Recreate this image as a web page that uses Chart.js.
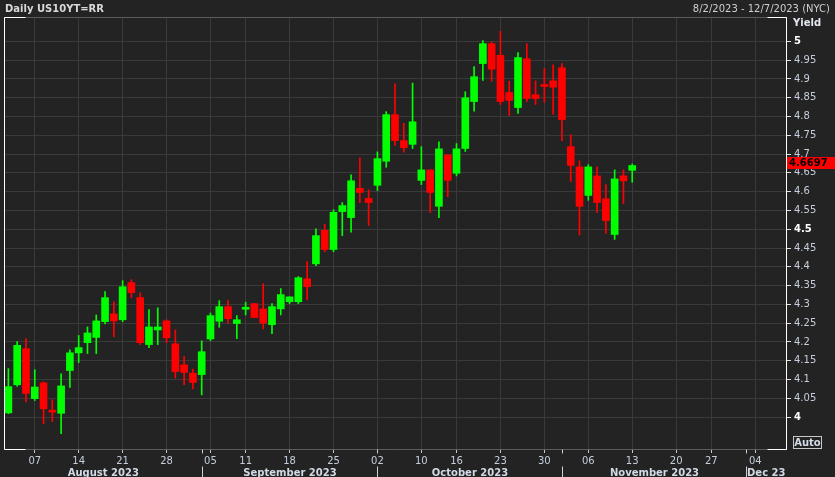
<!DOCTYPE html>
<html><head><meta charset="utf-8">
<script src="https://cdn.jsdelivr.net/npm/chart.js@4.4.0/dist/chart.umd.min.js"></script>
<style>
html,body{margin:0;padding:0;background:#232323;}
#wrap{position:relative;width:835px;height:477px;overflow:hidden;background:#232323;font-family:"DejaVu Sans",sans-serif;}
#c{position:absolute;left:0;top:0;}
.t{position:absolute;font-size:10px;line-height:12px;white-space:nowrap;}
</style></head><body>
<div id="wrap">
<canvas id="c" width="835" height="477"></canvas>
<div class="t" style="left:5px;top:3px;font-weight:bold;color:#d8d8d8">Daily US10YT=RR</div>
<div class="t" style="right:5px;top:3px;color:#cfcfcf">8/2/2023 - 12/7/2023 (NYC)</div>
<div class="t" style="left:793px;top:17px;font-weight:bold;color:#e2e6ee">Yield</div>
<div class="t" style="left:793px;top:436px;width:27px;height:11px;line-height:11px;border:1px solid #c8c8c8;font-weight:bold;color:#d4dbe6;text-align:center">Auto</div>
</div>
<script>
// ---- categories: trading days (Aug 2 – Dec 7, 2023) ----
const tradingDays = [
 '2023-08-02','2023-08-03','2023-08-04','2023-08-07','2023-08-08','2023-08-09','2023-08-10','2023-08-11',
 '2023-08-14','2023-08-15','2023-08-16','2023-08-17','2023-08-18','2023-08-21','2023-08-22','2023-08-23',
 '2023-08-24','2023-08-25','2023-08-28','2023-08-29','2023-08-30','2023-08-31',
 '2023-09-01','2023-09-05','2023-09-06','2023-09-07','2023-09-08','2023-09-11','2023-09-12','2023-09-13',
 '2023-09-14','2023-09-15','2023-09-18','2023-09-19','2023-09-20','2023-09-21','2023-09-22','2023-09-25',
 '2023-09-26','2023-09-27','2023-09-28','2023-09-29',
 '2023-10-02','2023-10-03','2023-10-04','2023-10-05','2023-10-06','2023-10-10','2023-10-11','2023-10-12',
 '2023-10-13','2023-10-16','2023-10-17','2023-10-18','2023-10-19','2023-10-20','2023-10-23','2023-10-24',
 '2023-10-25','2023-10-26','2023-10-27','2023-10-30','2023-10-31',
 '2023-11-01','2023-11-02','2023-11-03','2023-11-06','2023-11-07','2023-11-08','2023-11-09','2023-11-10',
 '2023-11-13','2023-11-14','2023-11-15','2023-11-16','2023-11-17','2023-11-20','2023-11-21','2023-11-22',
 '2023-11-24','2023-11-27','2023-11-28','2023-11-29','2023-11-30',
 '2023-12-01','2023-12-04','2023-12-05','2023-12-06','2023-12-07'
];

// ---- OHLC series (yield, %) ----
const openY = [
 4.011,4.086,4.182,4.049,4.091,4.015,4.010,4.124,4.171,4.198,4.212,4.254,4.275,4.259,4.358,4.318,
 4.193,4.232,4.256,4.195,4.139,4.117,
 4.113,4.208,4.255,4.294,4.249,4.287,4.302,4.288,4.246,4.288,4.307,4.307,4.368,4.408,4.497,4.446,
 4.547,4.531,4.609,4.582,
 4.617,4.681,4.805,4.736,4.726,4.630,4.658,4.561,4.698,4.649,4.715,4.840,4.941,4.994,4.963,4.864,
 4.824,4.954,4.858,4.882,4.895,
 4.930,4.720,4.666,4.590,4.642,4.581,4.486,4.642,4.657
];
const highY = [
 4.129,4.201,4.209,4.126,4.094,4.046,4.115,4.179,4.217,4.240,4.272,4.334,4.307,4.363,4.366,4.331,
 4.286,4.291,4.259,4.232,4.161,4.128,
 4.203,4.277,4.310,4.310,4.270,4.306,4.302,4.355,4.302,4.342,4.320,4.374,4.414,4.501,4.513,4.552,
 4.571,4.645,4.690,4.605,
 4.706,4.813,4.887,4.782,4.889,4.720,4.658,4.733,4.698,4.728,4.866,4.933,5.002,4.999,5.027,4.894,
 4.970,4.994,4.895,4.928,4.938,
 4.941,4.752,4.682,4.672,4.666,4.619,4.658,4.658,4.674
];
const lowY = [
 4.009,4.082,4.040,4.044,3.982,3.988,3.956,4.079,4.145,4.169,4.169,4.248,4.214,4.254,4.318,4.193,
 4.185,4.193,4.198,4.104,4.086,4.075,
 4.059,4.203,4.239,4.250,4.209,4.272,4.265,4.235,4.222,4.272,4.302,4.302,4.312,4.403,4.440,4.440,
 4.483,4.492,4.571,4.510,
 4.603,4.665,4.723,4.705,4.715,4.619,4.545,4.531,4.587,4.642,4.707,4.814,4.896,4.894,4.832,4.803,
 4.808,4.840,4.832,4.838,4.806,
 4.736,4.627,4.485,4.577,4.545,4.489,4.473,4.568,4.625
];
const closeY = [
 4.081,4.191,4.063,4.080,4.022,4.013,4.083,4.171,4.185,4.224,4.256,4.318,4.256,4.347,4.331,4.198,
 4.240,4.240,4.211,4.121,4.119,4.092,
 4.174,4.270,4.294,4.262,4.259,4.290,4.265,4.250,4.294,4.326,4.320,4.371,4.347,4.483,4.446,4.545,
 4.563,4.629,4.598,4.571,
 4.688,4.805,4.736,4.717,4.786,4.658,4.598,4.714,4.630,4.714,4.850,4.906,4.994,4.926,4.840,4.843,
 4.957,4.848,4.848,4.880,4.878,
 4.792,4.670,4.561,4.666,4.571,4.523,4.634,4.629,4.6697
];

// ---- axis tick labels ----
const yTicks = [4,4.05,4.1,4.15,4.2,4.25,4.3,4.35,4.4,4.45,4.5,4.55,4.6,4.65,4.7,4.75,4.8,4.85,4.9,4.95,5];
const yTickLabels = ['4','4.05','4.1','4.15','4.2','4.25','4.3','4.35','4.4','4.45','4.5','4.55','4.6','4.65','4.7','4.75','4.8','4.85','4.9','4.95','5'];
const xTickDates = ['2023-08-07','2023-08-14','2023-08-21','2023-08-28','2023-09-05','2023-09-11','2023-09-18','2023-09-25',
 '2023-10-02','2023-10-10','2023-10-16','2023-10-23','2023-10-30','2023-11-06','2023-11-13','2023-11-20','2023-11-27','2023-12-04'];
const xTickLabels = ['07','14','21','28','05','11','18','25','02','10','16','23','30','06','13','20','27','04'];
const monthStartDates = ['2023-09-01','2023-10-02','2023-11-01','2023-12-01'];
const monthLabels = ['August 2023','September 2023','October 2023','November 2023','Dec 23'];
const lastPriceLabel = '4.6697';

const GREEN = '#00ff00', RED = '#ff0000';
const n = closeY.length;
const bodies = [], wicks = [], cols = [];
for (let i = 0; i < n; i++) {
  bodies.push([openY[i], closeY[i]]);
  wicks.push([lowY[i], highY[i]]);
  cols.push(closeY[i] >= openY[i] ? GREEN : RED);
}
const xTickIdx = xTickDates.map(d => tradingDays.indexOf(d));
const monthIdx = monthStartDates.map(d => tradingDays.indexOf(d));

const framePlugin = {
  id: 'frame',
  afterDraw(chart) {
    const {ctx, chartArea: a, scales: {x, y}} = chart;
    const L = Math.round(a.left) + 0.5, R = Math.round(a.right) + 0.5;
    const T = Math.round(a.top) + 0.5, B = Math.round(a.bottom) + 0.5;
    ctx.save();
    ctx.lineWidth = 1;
    ctx.strokeStyle = '#5c5c5c';
    ctx.beginPath();
    ctx.moveTo(L, T); ctx.lineTo(R, T);
    ctx.moveTo(L, B); ctx.lineTo(R, B);
    ctx.stroke();
    ctx.strokeStyle = '#ffffff';
    ctx.beginPath();
    ctx.moveTo(L, T); ctx.lineTo(L, B);
    ctx.moveTo(L, T); ctx.lineTo(L + 21, T);
    ctx.moveTo(L, B); ctx.lineTo(L + 21, B);
    ctx.moveTo(R - 19, T); ctx.lineTo(R, T);
    ctx.moveTo(R - 19, B); ctx.lineTo(R, B);
    ctx.moveTo(R, T); ctx.lineTo(R, B);
    ctx.stroke();
    ctx.strokeStyle = '#d0d0d0';
    const H = chart.height;
    const seps = monthIdx.map(i => Math.round(x.getPixelForValue(i)) + 0.5);
    ctx.beginPath();
    seps.forEach(px => {
      ctx.moveTo(px, B); ctx.lineTo(px, B + 4);
      ctx.moveTo(px, B + 17); ctx.lineTo(px, H);
    });
    ctx.stroke();
    const bounds = [a.left].concat(seps).concat([a.right]);
    ctx.font = 'bold 10px "DejaVu Sans"';
    ctx.fillStyle = '#d2dae6';
    ctx.textAlign = 'center';
    ctx.textBaseline = 'alphabetic';
    monthLabels.forEach((m, k) => {
      const cx = (bounds[k] + bounds[k + 1]) / 2;
      ctx.fillText(m, cx, H - 1);
    });
    const py = y.getPixelForValue(closeY[n - 1]) - 2;
    ctx.fillStyle = '#ff0000';
    ctx.fillRect(Math.round(a.right) + 1, Math.round(py - 6), chart.width - Math.round(a.right) - 1, 12);
    ctx.fillStyle = '#000000';
    ctx.textAlign = 'left';
    ctx.textBaseline = 'middle';
    ctx.fillText(lastPriceLabel, Math.round(a.right) + 3, Math.round(py) + 0.5);
    ctx.restore();
  }
};

const isMajor = c => !!(c && c.tick && Math.abs(c.tick.value * 2 - Math.round(c.tick.value * 2)) < 1e-6);

new Chart(document.getElementById('c'), {
  type: 'bar',
  data: {
    labels: tradingDays,
    datasets: [
      { label: 'body', data: bodies, backgroundColor: cols, barThickness: 7, minBarLength: 2, grouped: false, borderWidth: 0 },
      { label: 'wick', data: wicks, backgroundColor: cols, barThickness: 1, grouped: false, borderWidth: 0 }
    ]
  },
  options: {
    responsive: false,
    animation: false,
    devicePixelRatio: 1,
    layout: { padding: { left: 4, top: 17, right: 0, bottom: 0 } },
    plugins: { legend: { display: false }, tooltip: { enabled: false }, title: { display: false } },
    scales: {
      x: {
        type: 'category',
        offset: true,
        grid: { offset: false, color: '#3a3a3a', tickColor: '#c8c8c8', tickLength: 4, drawOnChartArea: true },
        border: { display: false },
        afterBuildTicks: s => { s.ticks = xTickIdx.map(i => ({ value: i })); },
        afterFit: s => { s.height = 28; },
        ticks: {
          autoSkip: false, maxRotation: 0, minRotation: 0, padding: 2,
          color: '#c6cedb', font: { family: 'DejaVu Sans', size: 10 },
          callback: v => { const k = xTickIdx.indexOf(v); return k >= 0 ? xTickLabels[k] : ''; }
        }
      },
      y: {
        type: 'linear',
        position: 'right',
        min: 3.915, max: 5.065,
        grid: { color: '#3a3a3a', tickColor: '#e0e0e0', tickLength: 5 },
        border: { display: true, color: '#ffffff', width: 1 },
        afterBuildTicks: s => { s.ticks = yTicks.map(v => ({ value: v })); },
        afterFit: s => { s.width = 49; },
        ticks: {
          padding: 3,
          color: c => isMajor(c) ? '#ffffff' : '#c6cedb',
          font: c => ({ family: 'DejaVu Sans', size: 10, weight: isMajor(c) ? 'bold' : 'normal' }),
          callback: v => { const k = yTicks.findIndex(t => Math.abs(t - v) < 1e-9); return k >= 0 ? yTickLabels[k] : ''; }
        }
      }
    }
  },
  plugins: [framePlugin]
});
</script>
</body></html>
